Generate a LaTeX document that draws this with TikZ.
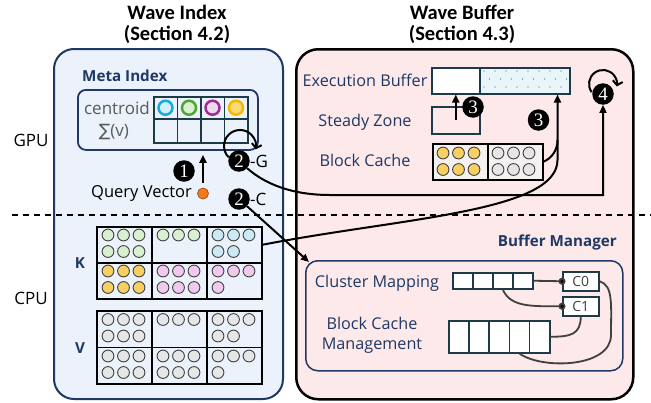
\documentclass[tikz,border=0pt]{standalone}
\usepackage{fontspec}
\setmainfont{Open Sans}
\newfontfamily\titlefont{Carlito}
\newfontfamily\numfont{Liberation Serif}
\newfontfamily\symfont{DejaVu Sans}
\usetikzlibrary{arrows.meta,positioning,calc}

\definecolor{navy}{HTML}{1F3864}
\definecolor{wibg}{HTML}{EBF2FB}
\definecolor{wbbg}{HTML}{FDE9E9}
\definecolor{boxedge}{HTML}{1D3B47}
\definecolor{wire}{HTML}{404040}
\definecolor{kgreen}{HTML}{D8F0CF}
\definecolor{kblue}{HTML}{CBEAF6}
\definecolor{kyellow}{HTML}{F7CF62}
\definecolor{kpink}{HTML}{F1C9EC}
\definecolor{kgray}{HTML}{E6E6E6}
\definecolor{ringblue}{HTML}{19A9E1}
\definecolor{fillblue}{HTML}{D3EEFA}
\definecolor{ringgreen}{HTML}{4EA72E}
\definecolor{fillgreen}{HTML}{D9F1D0}
\definecolor{ringpurple}{HTML}{A02B93}
\definecolor{fillpurple}{HTML}{EEDAF0}
\definecolor{ringyellow}{HTML}{F5B800}
\definecolor{fillyellow}{HTML}{FAD978}
\definecolor{qorange}{HTML}{F47A1F}
\definecolor{bcfill}{HTML}{F6F1F1}
\definecolor{dotfill}{HTML}{EAF5F9}
\definecolor{dotink}{HTML}{2F6E8C}

% two rows of three balls, first centre at (#1,#2)
\newcommand{\balls}[4]{%
  \foreach \k in {1,...,#3} {
    \pgfmathtruncatemacro\cc{mod(\k-1,3)}
    \pgfmathtruncatemacro\rr{div(\k-1,3)}
    \draw[ball, fill=#4] ({#1+15.5*\cc}, {#2+16.5*\rr}) circle[radius=5.9];
  }}

\begin{document}
\begin{tikzpicture}[x=1pt, y=-1pt,
  every node/.style={inner sep=0pt},
  title/.style={font=\titlefont\bfseries\fontsize{20.5}{21}\selectfont, align=center},
  lbl/.style={text=navy, font=\fontsize{16.2}{20}\selectfont},
  bold/.style={text=navy, font=\bfseries\fontsize{15.2}{17}\selectfont},
  side/.style={font=\fontsize{17}{19}\selectfont},
  num/.style={circle, fill=black, text=white, minimum size=21.5pt, font=\numfont\fontsize{19}{19}\selectfont},
  cell/.style={draw=black, line width=1.5pt, anchor=north west, minimum width=55pt, minimum height=36pt},
  bufbox/.style={draw=boxedge, line width=1.5pt, anchor=north west},
  ball/.style={draw=wire, line width=0.9pt},
  arr/.style={line width=2pt, -{Triangle[length=8pt,width=7pt]}},
  looparr/.style={line width=2pt, -{Straight Barb[length=4pt,width=10pt]}},
  wire/.style={draw=wire, line width=1.8pt},
]
\useasboundingbox (0,0) rectangle (651,402);
\fill[white] (0,0) rectangle (651,402);

% panels
\node[draw=navy, fill=wibg, line width=2pt, rounded corners=20pt, anchor=north west,
  minimum width=229pt, minimum height=350pt] (wi) at (53,48) {};
\node[draw=black, fill=wbbg, line width=2.5pt, rounded corners=22pt, anchor=north west,
  minimum width=337pt, minimum height=350pt] (wb) at (295,48) {};
\node[title] (wititle) at (177,24.5) {Wave Index\\(Section 4.2)};
\node[title] (wbtitle) at (462,24.5) {Wave Buffer\\(Section 4.3)};

\node[side] (gpu) at (31,140) {GPU};
\node[side] (cpu) at (31,298) {CPU};
\draw[line width=1.5pt, dash pattern=on 6pt off 5pt] (12,215) -- (651,215);

% meta index
\node[bold, anchor=west] (mititle) at (82,76) {Meta Index};
\node[draw=navy, line width=1.8pt, rounded corners=8pt, anchor=north west,
  minimum width=180pt, minimum height=60pt] (mi) at (77,89) {};
\node[text=black!65, font=\fontsize{17}{19}\selectfont, anchor=east] (centroid) at (150,108) {centroid};
\node[text=black!65, font=\fontsize{17}{19}\selectfont] (sumv) at (114,132) {{\symfont ∑}(v)};
\foreach \i/\rc/\fc in {0/ringblue/fillblue, 1/ringgreen/fillgreen, 2/ringpurple/fillpurple, 3/ringyellow/fillyellow} {
  \node[bufbox, minimum width=23.5pt, minimum height=22pt] (mt\i) at ({153+23.5*\i}, 96) {};
  \node[bufbox, minimum width=23.5pt, minimum height=24pt] (mb\i) at ({153+23.5*\i}, 118) {};
  \draw[draw=\rc, fill=\fc, line width=2.5pt] (mt\i.center) circle[radius=7];
}

% query
\node[circle, fill=qorange, draw=qorange!70!black, line width=0.8pt, minimum size=11pt] (qdot) at (203,193.5) {};
\node[font=\fontsize{16.5}{19}\selectfont, left=5pt of qdot] (qv) {Query Vector};
\node[num] (n1) at (184,171) {1};
\draw[arr] ([yshift=5pt]qdot.north) -- ([yshift=-4pt]qdot.north |- mi.south);
\node[num] (n2g) at (239,161) {2};
\node[side, right=0pt of n2g] (tg) {-G};
\node[num] (n2c) at (239,199) {2};
\node[side, right=0pt of n2c] (tc) {-C};
\draw[looparr] ($(n2g)+(-10.3,-3.7)$) arc[start angle=135, end angle=372, radius=16];

% K and V blocks
\node[bold] (klbl) at (80,263) {K};
\node[bold] (vlbl) at (80,348) {V};
\foreach \r/\c/\n/\f in {1/1/6/kgreen, 1/2/3/kgreen, 1/3/5/kblue, 2/1/6/kyellow, 2/2/6/kpink, 2/3/4/kpink} {
  \node[cell] (k\r\c) at ({96+55*(\c-1)}, {226+36*(\r-1)}) {};
  \balls{96+55*(\c-1)+12}{226+36*(\r-1)+9}{\n}{\f}
}
\foreach \r/\c/\n in {1/1/6, 1/2/3, 1/3/5, 2/1/6, 2/2/6, 2/3/4} {
  \node[cell, minimum height=36.5pt] (v\r\c) at ({96+55*(\c-1)}, {310+36.5*(\r-1)}) {};
  \balls{96+55*(\c-1)+12}{310+36.5*(\r-1)+9.5}{\n}{kgray}
}

% wave buffer, GPU side
\node[lbl] (exlbl) at (365,80) {Execution Buffer};
\node[lbl] (szlbl) at (365,122) {Steady Zone};
\node[lbl] (bclbl) at (365,160) {Block Cache};
\node[bufbox, fill=white, minimum width=48pt, minimum height=26pt] (exw) at (431,67) {};
\node[bufbox, fill=dotfill, minimum width=90pt, minimum height=26pt] (exdot) at (479,67) {};
\foreach \j in {0,1,2}
  \foreach \i in {0,...,7}
    \fill[dotink] ({484+11*\i+5.5*mod(\j,2)}, {71+8*\j}) circle[radius=0.7];
\node[bufbox, minimum width=48pt, minimum height=27pt] (sz) at (431,106) {};
\node[draw=black, line width=1.5pt, fill=bcfill, anchor=north west, minimum width=55pt, minimum height=36pt] (bcl) at (432,143) {};
\node[draw=black, line width=1.5pt, fill=bcfill, anchor=north west, minimum width=55pt, minimum height=36pt] (bcr) at (487,143) {};
\balls{443}{153}{6}{kyellow}
\balls{498}{153}{6}{kgray}
\coordinate (exin) at ([xshift=-13pt]exdot.south east);

\draw[arr] (sz.center) -- (exw.south);
\node[num] (n3a) at (473,107) {3};
\node[num] (n3b) at (538.5,120) {3};
\node[num] (n4) at (603,94) {4};
\draw[looparr] ($(n4)+(-11.3,-1.8)$) arc[start angle=144, end angle=370, radius=14];

% main flows
\draw[arr] (n2g) .. controls (265,184) and (292,195) .. (330,195) -| (n4.south);
\draw[arr] (k13.east) .. controls (400,218) and (exin |- 0,212) .. (exin |- 0,160) -- (exin);
\draw[line width=2pt] (bcr.east) .. controls (552,158) and (exin |- 0,150) .. (exin |- 0,140);

% buffer manager
\node[bold, anchor=east] (bmlbl) at (617,243) {Buffer Manager};
\node[draw=navy, line width=1.5pt, rounded corners=12pt, anchor=north west,
  minimum width=317pt, minimum height=110pt] (bm) at (305,260) {};
\draw[arr] (n2c) -- ([xshift=4pt,yshift=-2pt]bm.north west);
\node[lbl] (cmlbl) at (377,283) {Cluster Mapping};
\node[lbl, align=center] (bcmlbl) at (372,335) {Block Cache\\Management};
\foreach \i in {1,...,4}
  \node[bufbox, fill=white, minimum width=20pt, minimum height=16pt] (map\i) at ({452+20*(\i-1)}, 272) {};
\foreach \i in {1,...,5}
  \node[bufbox, fill=white, minimum width=20.2pt, minimum height=32pt] (bcm\i) at ({448+20.2*(\i-1)}, 320) {};
\node[bufbox, fill=white, minimum width=36pt, minimum height=19pt, text=wire,
  font=\fontsize{14}{15}\selectfont] (c0) at (562,271) {C0};
\node[bufbox, fill=white, minimum width=36pt, minimum height=19pt, text=wire,
  font=\fontsize{14}{15}\selectfont] (c1) at (562,296) {C1};
\coordinate (turn) at (611,335);
\draw[wire] (map4.east) -- (c0.west);
\draw[wire] (map3.south) .. controls +(8,18) and +(-30,0) .. (c1.west);
\draw[wire] (c1.south) .. controls +(0,18) and +(20,0) .. (bcm5.east);
\draw[wire] (c0.east) .. controls +(14,4) and +(0,-30) .. (turn)
  .. controls +(0,33) and +(22,16) .. (bcm4.south);
\fill[wire] (c0.west) circle[radius=2.6];
\fill[wire] (c1.west) circle[radius=2.6];
\end{tikzpicture}
\end{document}
